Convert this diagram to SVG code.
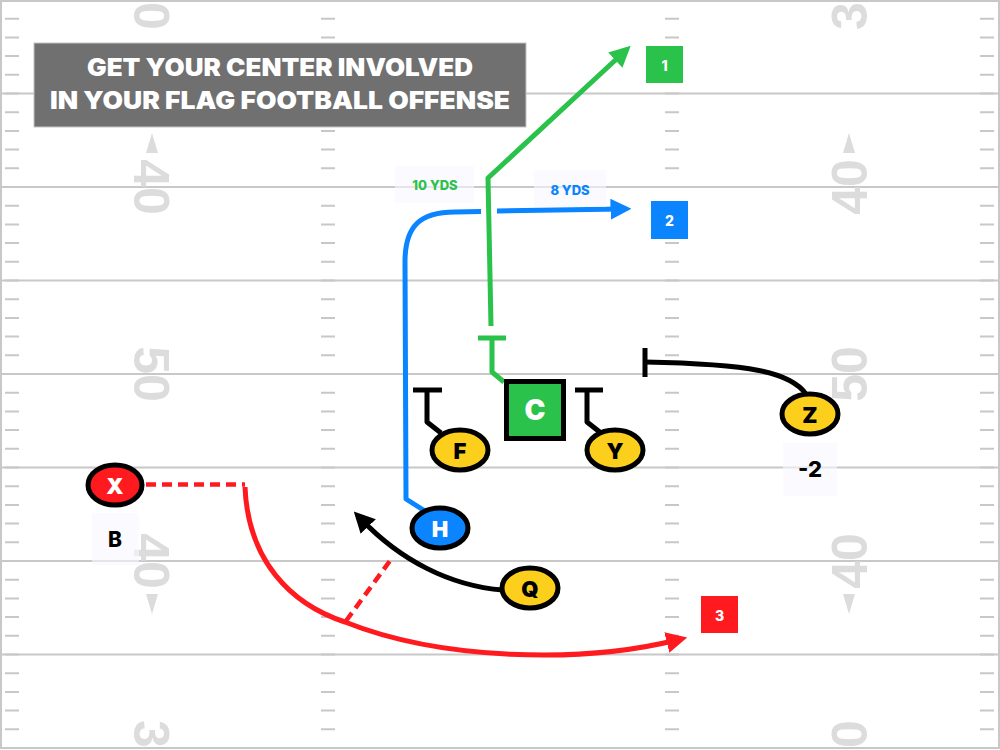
<svg xmlns="http://www.w3.org/2000/svg" width="1000" height="750" viewBox="0 0 1000 750">
<style>
.yl{stroke:#c8c8c8;stroke-width:2;fill:none}
.hash{stroke:#c8c8c8;stroke-width:14;stroke-dasharray:2 16.7;fill:none}
.fn{font-family:"Liberation Sans",Arial,sans-serif;font-weight:700;font-size:50px;fill:#dcdcdc;text-anchor:middle}
.tri{fill:#dcdcdc}
.title{font-family:Inter,"Liberation Sans",sans-serif;font-weight:900;font-size:24px;fill:#ffffff;text-anchor:middle}
.r{fill:none;stroke-width:5;stroke-linejoin:round}
.g{stroke:#2ac24a}.b{stroke:#0a84ff}.rd{stroke:#ff1a1f}.k{stroke:#000}
.dash{stroke-dasharray:10 6;stroke-width:4.5}
.node{stroke:#000;stroke-width:5}
.nl{font-family:Inter,"Liberation Sans",sans-serif;font-weight:900;font-size:22px;text-anchor:middle;dominant-baseline:central}
.lbl{font-family:Inter,"Liberation Sans",sans-serif;font-weight:800;font-size:14px;fill:#fff;text-anchor:middle;dominant-baseline:central}
.tag{fill:#f8f6ff;opacity:0.6}
.tt{font-family:Inter,"Liberation Sans",sans-serif;font-weight:800;text-anchor:middle;dominant-baseline:central}
</style>
<defs>
<marker id="ag" viewBox="0 0 20 20" refX="10" refY="10" markerUnits="userSpaceOnUse" markerWidth="21" markerHeight="21" orient="auto"><path d="M0,0 L20,10 L0,20 z" fill="#2ac24a"/></marker>
<marker id="ab" viewBox="0 0 20 20" refX="10" refY="10" markerUnits="userSpaceOnUse" markerWidth="21" markerHeight="21" orient="auto"><path d="M0,0 L20,10 L0,20 z" fill="#0a84ff"/></marker>
<marker id="ar" viewBox="0 0 20 20" refX="10" refY="10" markerUnits="userSpaceOnUse" markerWidth="21" markerHeight="21" orient="auto"><path d="M0,0 L20,10 L0,20 z" fill="#ff1a1f"/></marker>
<marker id="ak" viewBox="0 0 20 20" refX="10" refY="10" markerUnits="userSpaceOnUse" markerWidth="21" markerHeight="21" orient="auto"><path d="M0,0 L20,10 L0,20 z" fill="#000"/></marker>
</defs>
<rect x="0" y="0" width="1000" height="750" fill="#fff"/>
<g id="field">
<line class="hash" x1="12" y1="17.7" x2="12" y2="750"/>
<line class="hash" x1="328" y1="17.7" x2="328" y2="750"/>
<line class="hash" x1="672" y1="17.7" x2="672" y2="750"/>
<line class="hash" x1="987" y1="17.7" x2="987" y2="750"/>
<path class="yl" d="M0,93.5H1000M0,187H1000M0,280.5H1000M0,374H1000M0,467.5H1000M0,561H1000M0,654.5H1000"/>
<rect class="yl" x="1" y="1" width="998" height="747"/>
<text class="fn" transform="translate(134,16) rotate(90)">0</text>
<text class="fn" transform="translate(134,187) rotate(90)">40</text>
<text class="fn" transform="translate(134,374) rotate(90)">50</text>
<text class="fn" transform="translate(134,561) rotate(90)">40</text>
<text class="fn" transform="translate(134,734) rotate(90)">3</text>
<text class="fn" transform="translate(867,16) rotate(-90)">3</text>
<text class="fn" transform="translate(867,187) rotate(-90)">40</text>
<text class="fn" transform="translate(867,374) rotate(-90)">50</text>
<text class="fn" transform="translate(867,561) rotate(-90)">40</text>
<text class="fn" transform="translate(867,734) rotate(-90)">0</text>
<polygon class="tri" points="152,133 158,153 146,153"/>
<polygon class="tri" points="849,133 855,153 843,153"/>
<polygon class="tri" points="152,614 158,594 146,594"/>
<polygon class="tri" points="849,614 855,594 843,594"/>
</g>
<g id="title">
<rect x="34" y="43" width="492" height="84" fill="#707070" stroke="#c4c4c4" stroke-width="1"/>
<text class="title" x="280" y="76" textLength="386" lengthAdjust="spacingAndGlyphs">GET YOUR CENTER INVOLVED</text>
<text class="title" x="280" y="109" textLength="460" lengthAdjust="spacingAndGlyphs">IN YOUR FLAG FOOTBALL OFFENSE</text>
</g>
<g id="connectors">
<path class="r g" d="M504,382 L492,372 L492,338"/>
<path class="r g" d="M478,338 H506"/>
<path class="r g" d="M491,326 L488,178 L623,53" marker-end="url(#ag)"/>
<path class="r b" d="M425,511 L406,499 L405,262 C405,226 420,212 455,212 L481,211.5"/>
<path class="r b" d="M497,211 L621,209" marker-end="url(#ab)"/>
<path class="r rd dash" d="M146,484.5 L245,484.5"/>
<path class="r rd" d="M245,487 C248,560 290,604 345,622 C440,660 580,664 677,640" marker-end="url(#ar)"/>
<path class="r rd dash" d="M346,621 L392,558"/>
<path class="r k" d="M503,590 C450,586 400,560 361,519" marker-end="url(#ak)"/>
<path class="r k" d="M441,433 L427,422 L427,390"/>
<path class="r k" d="M413,390 H442"/>
<path class="r k" d="M601,433 L587,422 L587,390"/>
<path class="r k" d="M575,390 H603"/>
<path class="r k" d="M806,394 C790,372 750,364 645,362"/>
<path class="r k" d="M645,348 V377"/>
</g>
<g id="node-X"><ellipse class="node" cx="115" cy="485" rx="27" ry="20" fill="#ff1a1f"/><text class="nl" x="115" y="486" fill="#fff">X</text></g>
<g id="node-F"><ellipse class="node" cx="460" cy="450" rx="28" ry="20" fill="#fccf1d"/><text class="nl" x="460" y="451" fill="#000">F</text></g>
<g id="node-Y"><ellipse class="node" cx="615" cy="450" rx="28" ry="20" fill="#fccf1d"/><text class="nl" x="615" y="451" fill="#000">Y</text></g>
<g id="node-Z"><ellipse class="node" cx="810" cy="414" rx="28" ry="20" fill="#fccf1d"/><text class="nl" x="810" y="415" fill="#000">Z</text></g>
<g id="node-H"><ellipse class="node" cx="440" cy="528" rx="28" ry="20" fill="#0a84ff"/><text class="nl" x="440" y="529" fill="#fff">H</text></g>
<g id="node-Q"><ellipse class="node" cx="530" cy="588" rx="28" ry="20" fill="#fccf1d"/><text class="nl" x="530" y="589" fill="#000">Q</text></g>
<g id="node-C"><rect class="node" x="506.5" y="381.5" width="57" height="57" fill="#2ac24a"/><text class="nl" x="535" y="410" fill="#fff" style="font-size:28px">C</text></g>
<g id="label-1"><rect x="646" y="46" width="37" height="37" fill="#2ac24a"/><text class="lbl" x="664.5" y="65">1</text></g>
<g id="label-2"><rect x="651" y="201" width="37" height="38" fill="#0a84ff"/><text class="lbl" x="669.5" y="220">2</text></g>
<g id="label-3"><rect x="701" y="596" width="37" height="37" fill="#ff1a1f"/><text class="lbl" x="719.5" y="615">3</text></g>
<g id="text-10yds"><rect class="tag" x="395" y="166" width="79" height="37"/><text class="tt" x="435" y="185" fill="#2ac24a" font-size="13">10 YDS</text></g>
<g id="text-8yds"><rect class="tag" x="534" y="170" width="72" height="37"/><text class="tt" x="570" y="190" fill="#0a84ff" font-size="13">8 YDS</text></g>
<g id="text-B"><rect class="tag" x="92" y="513" width="47" height="52"/><text class="tt" x="115" y="539" fill="#000" font-size="21">B</text></g>
<g id="text-minus2"><rect class="tag" x="783" y="443" width="54" height="53"/><text class="tt" x="810" y="469" fill="#000" font-size="22">-2</text></g>
</svg>
